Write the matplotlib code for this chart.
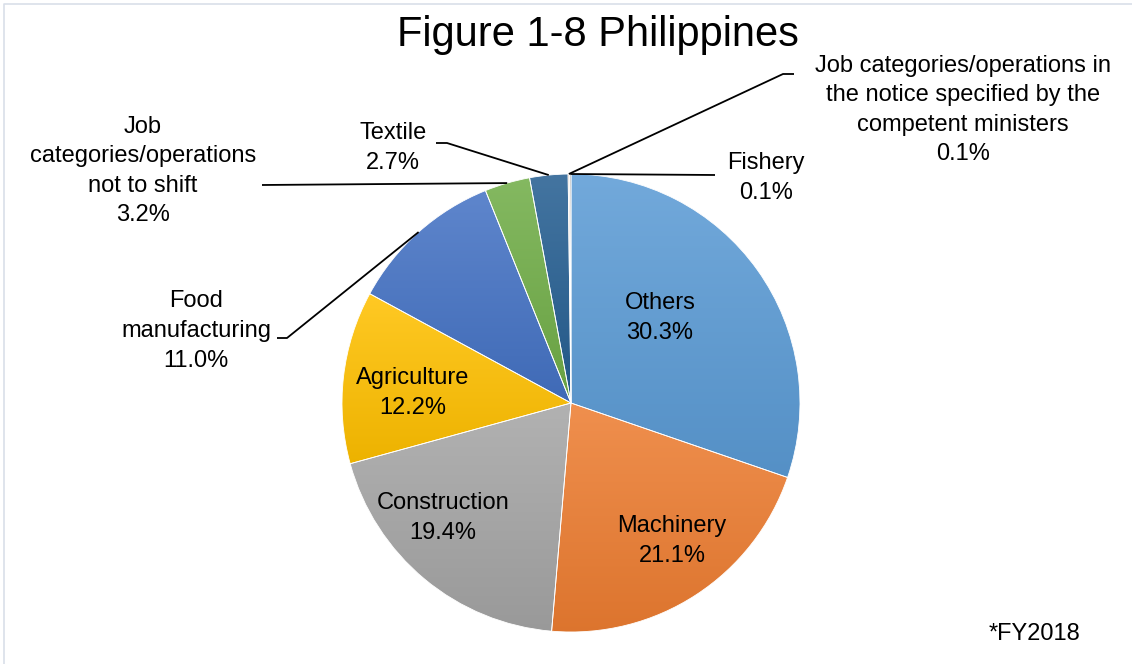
import numpy as np
import matplotlib.pyplot as plt
from matplotlib.colors import to_rgb

plt.rcParams['font.family'] = ['Liberation Sans', 'DejaVu Sans']

# data (clockwise from 12 o'clock, as in the source chart)
categories = ['Others', 'Machinery', 'Construction', 'Agriculture',
              'Food\nmanufacturing',
              'Job\ncategories/operations\nnot to shift',
              'Textile',
              'Job categories/operations in\nthe notice specified by the\ncompetent ministers',
              'Fishery']
shares = [30.3, 21.1, 19.4, 12.2, 11.0, 3.2, 2.7, 0.1, 0.1]
colors = ['#5B9BD5', '#ED7D31', '#A5A5A5', '#FFC000', '#4472C4',
          '#70AD47', '#255E91', '#9E480E', '#636363']

W, H = 1132, 664
fig = plt.figure(figsize=(W / 100, H / 100), dpi=100)
ax = fig.add_axes([0, 0, 1, 1])

cx, cy, R = 571, H - 403, 229
wedges, _ = ax.pie(shares, colors=colors, startangle=90, counterclock=False,
                   center=(cx, cy), radius=R,
                   wedgeprops=dict(edgecolor='white', linewidth=0.6))


def shade(c, f):
    c = np.array(to_rgb(c))
    return c + (1 - c) * f if f > 0 else c * (1 + f)


# vertical gradient inside every slice
for w, c in zip(wedges, colors):
    v = w.get_path().vertices
    x0, y0 = v.min(0)
    x1, y1 = v.max(0)
    grad = np.linspace(shade(c, 0.14), shade(c, -0.07), 64)[:, None, :]
    im = ax.imshow(grad, extent=[x0, x1, y0, y1], origin='upper',
                   aspect='auto', zorder=1, interpolation='bilinear')
    im.set_clip_path(w)
    w.set_facecolor('none')
    w.set_zorder(2)

fs = 17
ls = 1.45
# labels inside the pie (pixel positions from the top-left corner)
inner_pos = {0: (660, 318), 1: (672, 541), 2: (443, 518), 3: (413, 393)}
for i, (x, y) in inner_pos.items():
    ax.text(x, H - y, f'{categories[i]}\n{shares[i]:.1f}%', ha='center',
            va='center', fontsize=fs, linespacing=ls, zorder=3)

# labels outside with leader lines
outer_text = {4: (196, 331), 5: (143, 171), 6: (393, 148), 7: (963, 110), 8: (766, 178)}
outer_bend = {4: [(287, 338), (277, 338)],
              5: [(262, 185)],
              6: [(447, 143), (436, 143)],
              7: [(783, 74), (794, 74)],
              8: [(715, 175)]}
for i, (x, y) in outer_text.items():
    ax.text(x, H - y, f'{categories[i]}\n{shares[i]:.1f}%', ha='center',
            va='center', fontsize=fs, linespacing=ls, zorder=3)
    w = wedges[i]
    mid = np.deg2rad((w.theta1 + w.theta2) / 2)
    xs = [cx + R * np.cos(mid)] + [p[0] for p in outer_bend[i]]
    ys = [cy + R * np.sin(mid)] + [H - p[1] for p in outer_bend[i]]
    ax.plot(xs, ys, color='black', lw=1.3, zorder=4, solid_capstyle='butt')

ax.text(598, H - 35, 'Figure 1-8 Philippines', ha='center', va='center', fontsize=30)
ax.text(1035, H - 634, '*FY2018', ha='center', va='center', fontsize=fs)

# light chart-area border (only left and top edges are inside the image)
ax.plot([3.5, 3.5, W], [0, H - 4, H - 4], color='#D9DFE9', lw=1.2, zorder=0)

ax.set_xlim(0, W)
ax.set_ylim(0, H)
ax.set_aspect('equal')
ax.axis('off')

fig.savefig('out.png', dpi=100)
